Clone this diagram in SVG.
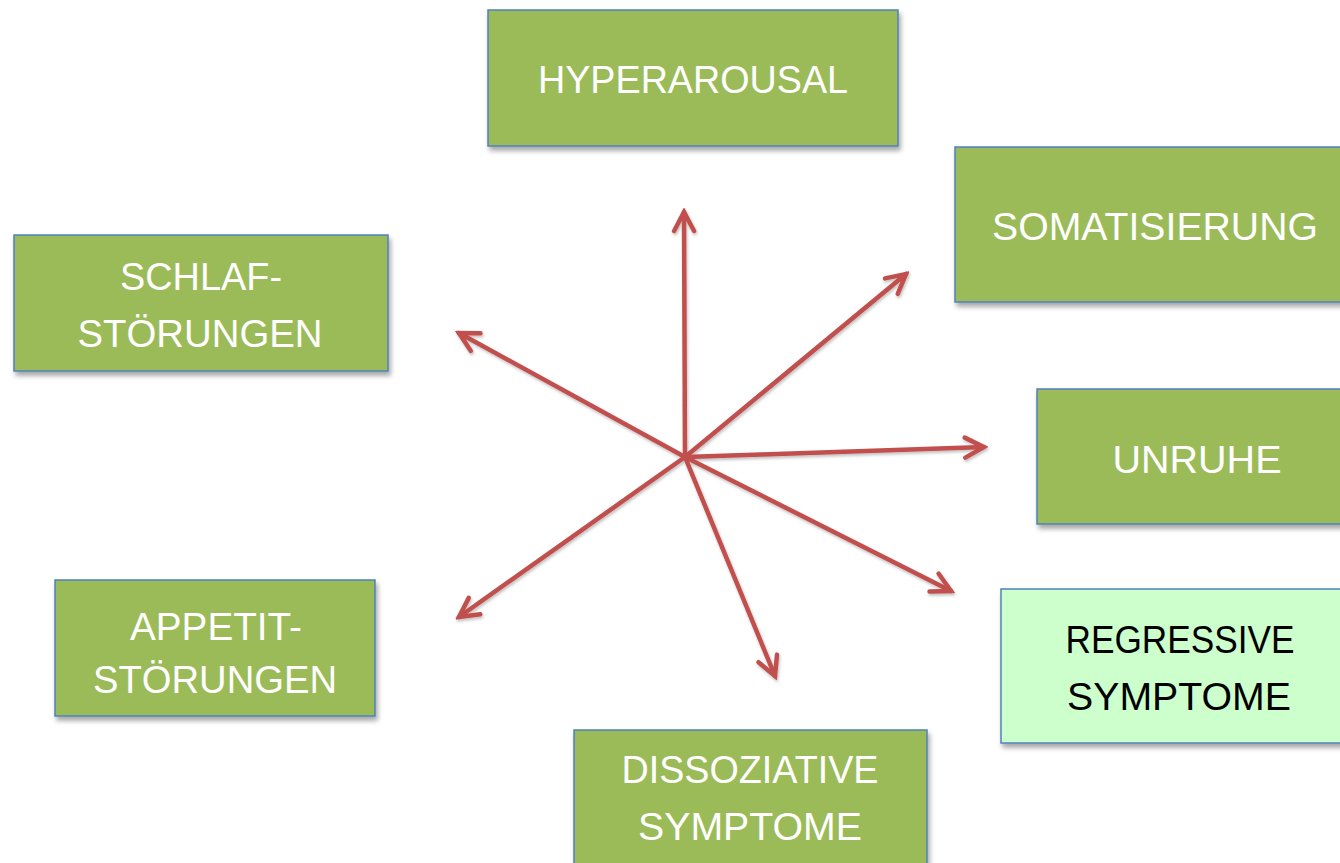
<svg xmlns="http://www.w3.org/2000/svg" width="1340" height="863" viewBox="0 0 1340 863">
<style>
.box{fill:#9bbb59;stroke:#4f81bd;stroke-width:1.5;filter:url(#sh)}
.lt{fill:#ccffcc}
.t{font-family:"Liberation Sans",Arial,sans-serif;font-size:39px;fill:#ffffff;text-anchor:middle}
.dk{fill:#000000}
.c{stroke:#c0504d;stroke-width:4.5;fill:none;stroke-linecap:round;marker-end:url(#ah)}
</style>
<defs>
<filter id="sh" x="-10%" y="-10%" width="125%" height="130%"><feDropShadow dx="2" dy="4" stdDeviation="2.5" flood-color="#000" flood-opacity="0.35"/></filter>
<filter id="sh2" filterUnits="userSpaceOnUse" x="400" y="180" width="620" height="530"><feDropShadow dx="1" dy="2" stdDeviation="1.5" flood-color="#000" flood-opacity="0.25"/></filter>
<marker id="ah" markerUnits="userSpaceOnUse" viewBox="-24 -14 28 28" markerWidth="28" markerHeight="28" refX="0" refY="0" orient="auto">
<path d="M -19 -10 L 0 0 L -19 10" fill="none" stroke="#c0504d" stroke-width="4.5" stroke-linecap="round" stroke-linejoin="miter"/>
</marker>
</defs>
<g id="connectors" filter="url(#sh2)">
<line class="c" x1="685" y1="457" x2="684" y2="212"/>
<line class="c" x1="685" y1="457" x2="906" y2="274"/>
<line class="c" x1="685" y1="457" x2="984" y2="447"/>
<line class="c" x1="685" y1="457" x2="951" y2="591"/>
<line class="c" x1="685" y1="457" x2="775" y2="676"/>
<line class="c" x1="685" y1="457" x2="459" y2="617"/>
<line class="c" x1="685" y1="457" x2="459" y2="333"/>
</g>
<g id="hyperarousal">
<rect class="box" x="488" y="10" width="410" height="136"/>
<text class="t" x="693" y="93" textLength="310" lengthAdjust="spacingAndGlyphs">HYPERAROUSAL</text>
</g>
<g id="somatisierung">
<rect class="box" x="955" y="147" width="400" height="155"/>
<text class="t" x="1155" y="240" textLength="326" lengthAdjust="spacingAndGlyphs">SOMATISIERUNG</text>
</g>
<g id="schlaf">
<rect class="box" x="14" y="235" width="374" height="136"/>
<text class="t" x="201" y="290" textLength="162" lengthAdjust="spacingAndGlyphs">SCHLAF-</text>
<text class="t" x="200" y="347" textLength="245" lengthAdjust="spacingAndGlyphs">STÖRUNGEN</text>
</g>
<g id="unruhe">
<rect class="box" x="1037" y="389" width="320" height="135"/>
<text class="t" x="1197" y="473" textLength="169" lengthAdjust="spacingAndGlyphs">UNRUHE</text>
</g>
<g id="regressive">
<rect class="box lt" x="1001" y="589" width="356" height="154"/>
<text class="t dk" x="1180" y="653" textLength="229" lengthAdjust="spacingAndGlyphs">REGRESSIVE</text>
<text class="t dk" x="1179" y="710" textLength="224" lengthAdjust="spacingAndGlyphs">SYMPTOME</text>
</g>
<g id="appetit">
<rect class="box" x="55" y="580" width="320" height="136"/>
<text class="t" x="216" y="640" textLength="172" lengthAdjust="spacingAndGlyphs">APPETIT-</text>
<text class="t" x="215" y="693" textLength="244" lengthAdjust="spacingAndGlyphs">STÖRUNGEN</text>
</g>
<g id="dissoziative">
<rect class="box" x="574" y="730" width="353" height="150"/>
<text class="t" x="750" y="783" textLength="257" lengthAdjust="spacingAndGlyphs">DISSOZIATIVE</text>
<text class="t" x="750" y="840" textLength="224" lengthAdjust="spacingAndGlyphs">SYMPTOME</text>
</g>
</svg>
